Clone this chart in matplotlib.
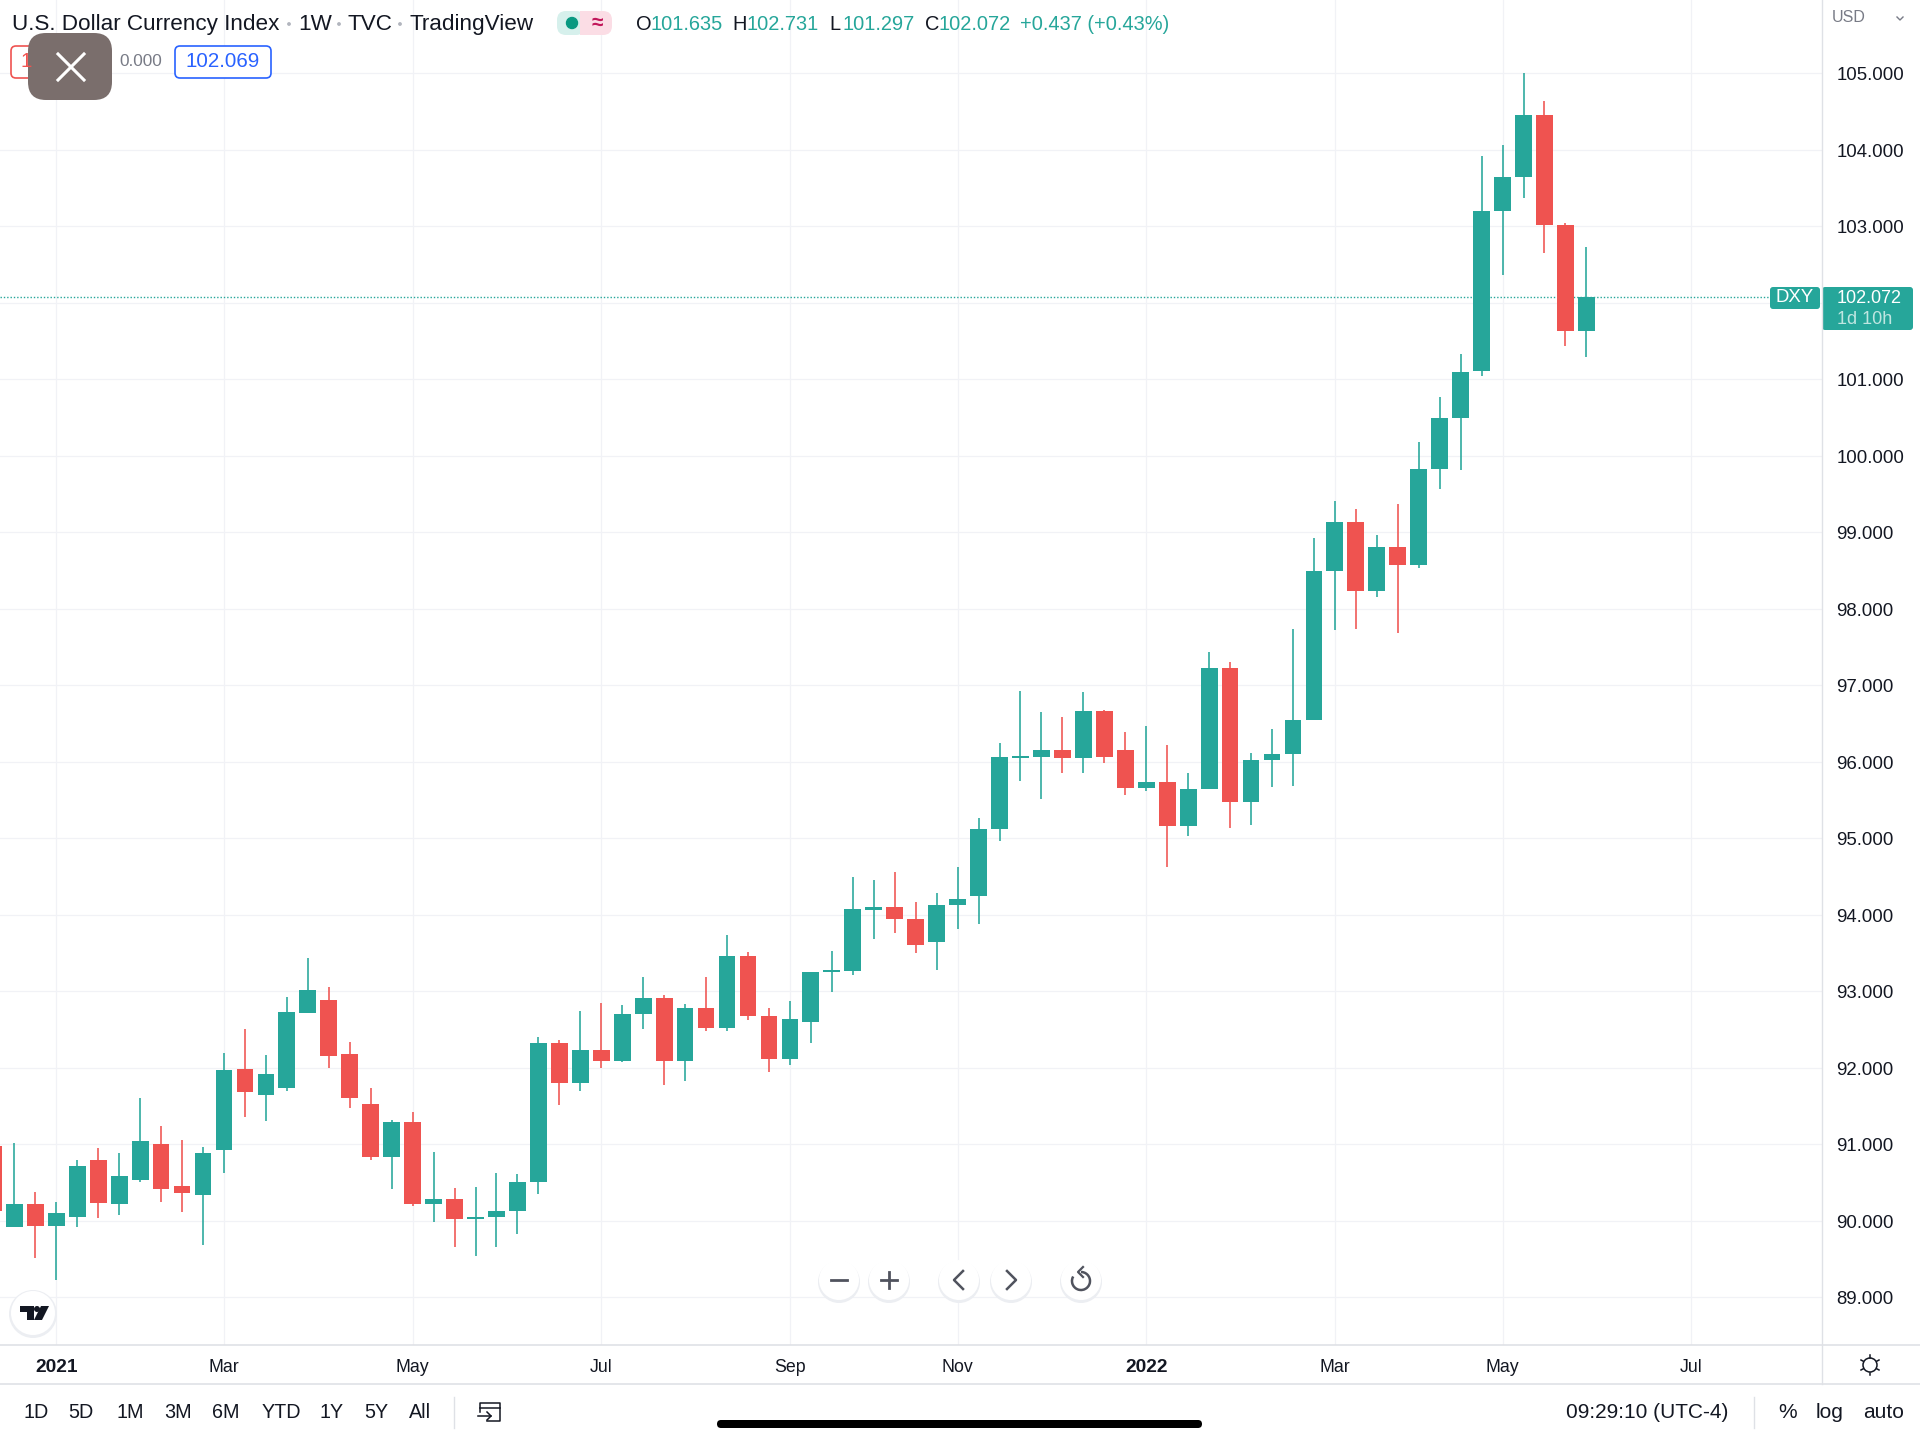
import matplotlib
matplotlib.use('Agg')
import matplotlib.pyplot as plt
from matplotlib.patches import FancyBboxPatch, Circle, Rectangle, Polygon, Arc
from matplotlib.transforms import ScaledTranslation

plt.rcParams['font.family'] = ['Liberation Sans', 'DejaVu Sans']

UP = '#26a69a'
DOWN = '#ef5350'
GRID = '#f1f2f6'
BORDER = '#dfe1e6'
TEXT = '#131722'

# weekly candles, bar 0 is the first week of 2021
bars = list(range(-3, 74))
opens = [90.98, 89.92, 90.22, 89.93, 90.05, 90.79, 90.22, 90.53, 91.00, 90.45,
         90.33, 90.92, 91.98, 91.65, 91.73, 92.72, 92.89, 92.18, 91.53, 90.83,
         91.29, 90.22, 90.29, 90.02, 90.05, 90.13, 90.51, 92.32, 91.80, 92.23,
         92.09, 92.70, 92.91, 92.09, 92.78, 92.52, 93.46, 92.68, 92.12, 92.60,
         93.25, 93.27, 94.06, 94.10, 93.95, 93.65, 94.13, 94.25, 95.12, 96.05,
         96.06, 96.15, 96.05, 96.67, 96.15, 95.66, 95.74, 95.16, 95.64, 97.22,
         95.47, 96.03, 96.10, 96.54, 98.50, 99.13, 98.23, 98.81, 98.57, 99.83,
         100.49, 101.11, 103.20, 103.65, 104.46, 103.02, 101.635]
closes = [90.13, 90.22, 89.93, 90.10, 90.72, 90.23, 90.59, 91.04, 90.41, 90.36,
          90.88, 91.97, 91.68, 91.92, 92.73, 93.01, 92.15, 91.61, 90.83, 91.29,
          90.22, 90.29, 90.02, 90.05, 90.13, 90.51, 92.32, 91.80, 92.23, 92.09,
          92.70, 92.91, 92.09, 92.78, 92.52, 93.46, 92.68, 92.12, 92.64, 93.25,
          93.28, 94.07, 94.10, 93.95, 93.60, 94.13, 94.21, 95.12, 96.06, 96.07,
          96.15, 96.05, 96.67, 96.06, 95.66, 95.74, 95.16, 95.64, 97.22, 95.47,
          96.03, 96.10, 96.54, 98.50, 99.13, 98.23, 98.81, 98.57, 99.83, 100.49,
          101.10, 103.20, 103.65, 104.46, 103.02, 101.63, 102.072]
highs = [91.00, 91.01, 90.37, 90.25, 90.80, 90.95, 90.88, 91.60, 91.24, 91.06,
         90.97, 92.19, 92.51, 92.17, 92.92, 93.43, 93.06, 92.33, 91.73, 91.32,
         91.42, 90.90, 90.43, 90.44, 90.62, 90.61, 92.40, 92.36, 92.74, 92.84,
         92.82, 93.19, 92.95, 92.83, 93.19, 93.73, 93.51, 92.78, 92.87, 93.25,
         93.52, 94.50, 94.45, 94.56, 94.17, 94.29, 94.62, 95.26, 96.24, 96.93,
         96.65, 96.59, 96.91, 96.68, 96.39, 96.47, 96.22, 95.85, 97.44, 97.30,
         96.11, 96.43, 97.73, 98.92, 99.41, 99.30, 98.96, 99.37, 100.18, 100.77,
         101.33, 103.92, 104.06, 105.00, 104.64, 103.05, 102.731]
lows = [90.10, 89.92, 89.51, 89.22, 89.92, 90.04, 90.08, 90.50, 90.24, 90.12,
        89.68, 90.63, 91.36, 91.30, 91.70, 92.72, 92.00, 91.48, 90.80, 90.42,
        90.19, 89.98, 89.65, 89.54, 89.66, 89.83, 90.35, 91.51, 91.70, 92.00,
        92.08, 92.51, 91.78, 91.83, 92.48, 92.48, 92.63, 91.95, 92.04, 92.32,
        92.99, 93.21, 93.68, 93.76, 93.50, 93.28, 93.82, 93.88, 94.97, 95.75,
        95.52, 95.85, 95.85, 95.99, 95.57, 95.62, 94.63, 95.03, 95.64, 95.13,
        95.17, 95.67, 95.68, 96.54, 97.72, 97.73, 98.16, 97.69, 98.53, 99.57,
        99.82, 101.05, 102.36, 103.37, 102.65, 101.44, 101.297]
last_price = 102.072

price_ticks = list(range(89, 106))
date_ticks = [0, 8, 17, 26, 35, 43, 52, 61, 69, 78]
date_labels = ['2021', 'Mar', 'May', 'Jul', 'Sep', 'Nov', '2022', 'Mar', 'May', 'Jul']

range_labels = ['1D', '5D', '1M', '3M', '6M', 'YTD', '1Y', '5Y', 'All']
range_x = [36, 81, 130, 178, 226, 281, 332, 376, 420]

W, H = 1920, 1439
fig = plt.figure(figsize=(W / 100, H / 100), dpi=100, facecolor='white')

# main pane stops at the price scale and the time scale
ax = fig.add_axes([0, (H - 1345) / H, 1822 / W, 1345 / H])
ax.set_xlim(-2.686, 84.24)
ax.set_ylim(88.375, 105.96)
ax.grid(True, color=GRID, lw=0.9)
ax.set_axisbelow(True)
for name in ['top', 'left', 'bottom', 'right']:
    ax.spines[name].set_visible(False)

colors = [UP if c >= o else DOWN for o, c in zip(opens, closes)]
ax.vlines(bars, lows, highs, colors=colors, lw=1.15, zorder=2)
body_low = [min(o, c) for o, c in zip(opens, closes)]
body_h = [max(abs(c - o), 0.03) for o, c in zip(opens, closes)]
ax.bar(bars, body_h, bottom=body_low, width=0.8, color=colors, lw=0, zorder=3)
ax.hlines(last_price, -2.686, 81.7, colors=UP, lw=1, linestyles=(0, (1, 1.4)), zorder=1)

ax.yaxis.tick_right()
ax.set_yticks(price_ticks)
# 102 sits under the last price tag, so it has no label
ax.set_yticklabels(['' if p == 102 else '%.3f' % p for p in price_ticks])
ax.set_xticks(date_ticks)
ax.set_xticklabels(date_labels)
ax.tick_params(axis='y', length=0, pad=10.5, labelsize=13.4, labelcolor=TEXT)
ax.tick_params(axis='x', length=0, pad=10.4, labelsize=12.8, labelcolor=TEXT)
down_a_bit = ScaledTranslation(0, -0.5 / 100, fig.dpi_scale_trans)
for lab in ax.get_yticklabels():
    lab.set_transform(lab.get_transform() + down_a_bit)
for lab, txt in zip(ax.get_xticklabels(), date_labels):
    if txt.isdigit():
        lab.set_fontweight('bold')
        lab.set_fontsize(13.8)

# everything around the chart is drawn in pixel coordinates
ui = fig.add_axes([0, 0, 1, 1], zorder=5)
ui.set_xlim(0, W)
ui.set_ylim(H, 0)
ui.axis('off')
ui.patch.set_alpha(0)

ui.plot([1822, 1822], [0, 1384], color=BORDER, lw=1)
ui.plot([0, W], [1345, 1345], color=BORDER, lw=1.2)
ui.plot([0, W], [1384, 1384], color=BORDER, lw=1.2)


def label(x, y, s, size=14.4, color=TEXT, ha='left', **kw):
    ui.text(x, y + 1.8, s, fontsize=size, color=color, ha=ha, va='center', **kw)


def pill(x0, y0, x1, y1, r, **kw):
    ui.add_patch(FancyBboxPatch((x0 + r, y0 + r), x1 - x0 - 2 * r, y1 - y0 - 2 * r,
                                boxstyle='round,pad=%d' % r, **kw))


# header
label(12, 23, 'U.S. Dollar Currency Index', 16.2)
label(298, 23, '1W', 16.2)
label(348, 23, 'TVC', 16.2)
label(410, 23, 'TradingView', 16.2)
for x in [289, 339, 400]:
    ui.add_patch(Circle((x, 24), 1.2, color='#b2b5be'))
pill(557, 11, 585, 35, 9, fc='#d6f0ec', ec='none')
pill(580, 11, 612, 35, 9, fc='#fbdde5', ec='none')
ui.add_patch(Rectangle((580, 11), 10, 24, fc='#fbdde5', ec='none'))
ui.add_patch(Circle((572, 23), 5.5, color='#089981'))
label(597, 22, '≈', 15, '#c2185b', ha='center', fontweight='bold')

for x, s in zip([636, 732, 829, 925], 'OHLC'):
    label(x, 23, s, 14.4)
for x, s in zip([651, 746, 842, 939, 1020],
                ['101.635', '102.731', '101.297', '102.072', '+0.437 (+0.43%)']):
    label(x, 23, s, 14.4, UP)

pill(11, 46, 60, 78, 5, fc='white', ec=DOWN, lw=1.2)
label(21, 60, '1', 14.8, DOWN)
label(119, 60, '0.000', 12.4, '#787b86')
pill(175, 46, 271, 78, 5, fc='white', ec='#2962ff', lw=1.2)
label(223, 60, '102.069', 14.8, '#2962ff', ha='center')

# close button over the top corner
pill(28, 33, 112, 100, 18, fc='#7a6e6c', ec='none')
ui.plot([58, 84], [54, 80], color='white', lw=2.2)
ui.plot([84, 58], [54, 80], color='white', lw=2.2)

label(1849, 16, 'USD', 11.5, '#787b86', ha='center')
ui.plot([1897, 1900, 1903], [17, 20, 17], color='#787b86', lw=1)

# last price tags
pill(1770, 287, 1820, 309, 3, fc=UP, ec='none')
label(1795, 296, 'DXY', 13.4, 'white', ha='center')
pill(1822, 287, 1913, 330, 3, fc=UP, ec='none')
label(1837, 296.5, '102.072', 13, 'white')
label(1837, 317.5, '1d 10h', 13, '#bfe6e1')

# zoom and scroll buttons
for x in [839, 889, 959, 1011, 1081]:
    ui.add_patch(Circle((x, 1282), 21, fc='#eceef2', ec='none'))
    ui.add_patch(Circle((x, 1280), 20, fc='white', ec='none'))
btn = '#50535e'
ui.plot([831, 847], [1280, 1280], color=btn, lw=2)
ui.plot([881, 897], [1280, 1280], color=btn, lw=2)
ui.plot([889, 889], [1272, 1288], color=btn, lw=2)
ui.plot([963, 954, 963], [1271, 1280, 1289], color=btn, lw=1.8)
ui.plot([1007, 1016, 1007], [1271, 1280, 1289], color=btn, lw=1.8)
ui.add_patch(Arc((1081, 1281), 18, 18, theta1=-90, theta2=210, color=btn, lw=1.8))
ui.plot([1083, 1078, 1083], [1267, 1272, 1277], color=btn, lw=1.6)

# logo badge
ui.add_patch(Circle((33, 1314), 24, fc='#eceef2', ec='none'))
ui.add_patch(Circle((33, 1313), 22, fc='white', ec='none'))
ui.add_patch(Polygon([(20, 1306), (34, 1306), (34, 1320), (27, 1320), (27, 1312), (20, 1312)],
                     fc=TEXT, ec='none'))
ui.add_patch(Circle((37, 1309), 3, fc=TEXT, ec='none'))
ui.add_patch(Polygon([(41, 1306), (49, 1306), (42, 1320), (34, 1320)], fc=TEXT, ec='none'))

# gear in the scale corner
ui.add_patch(Circle((1870, 1365), 7, fc='white', ec=TEXT, lw=1.1))
for dx, dy in [(0, -10), (0, 10), (-9, -5), (9, -5), (-9, 5), (9, 5)]:
    ui.plot([1870 + dx * 0.75, 1870 + dx], [1365 + dy * 0.75, 1365 + dy], color=TEXT, lw=1.1)

# bottom toolbar
for x, s in zip(range_x, range_labels):
    label(x, 1411, s, 14.2, ha='center')
ui.plot([454, 454], [1397, 1428], color=BORDER, lw=1)
ui.plot([480, 480, 500, 500, 487], [1412, 1403, 1403, 1421, 1421], color=TEXT, lw=1.1)
ui.plot([480, 500], [1408, 1408], color=TEXT, lw=1.1)
ui.plot([478, 491], [1416, 1416], color=TEXT, lw=1.1)
ui.plot([487, 491, 487], [1412, 1416, 1420], color=TEXT, lw=1.1)
label(1566, 1411, '09:29:10 (UTC-4)', 15)
ui.plot([1754, 1754], [1397, 1428], color=BORDER, lw=1)
label(1788, 1411, '%', 15, ha='center')
label(1830, 1411, 'log', 15, ha='center')
label(1884, 1411, 'auto', 15, ha='center')
pill(717, 1420, 1202, 1428, 4, fc='black', ec='none')

fig.savefig('out.png', dpi=100)
